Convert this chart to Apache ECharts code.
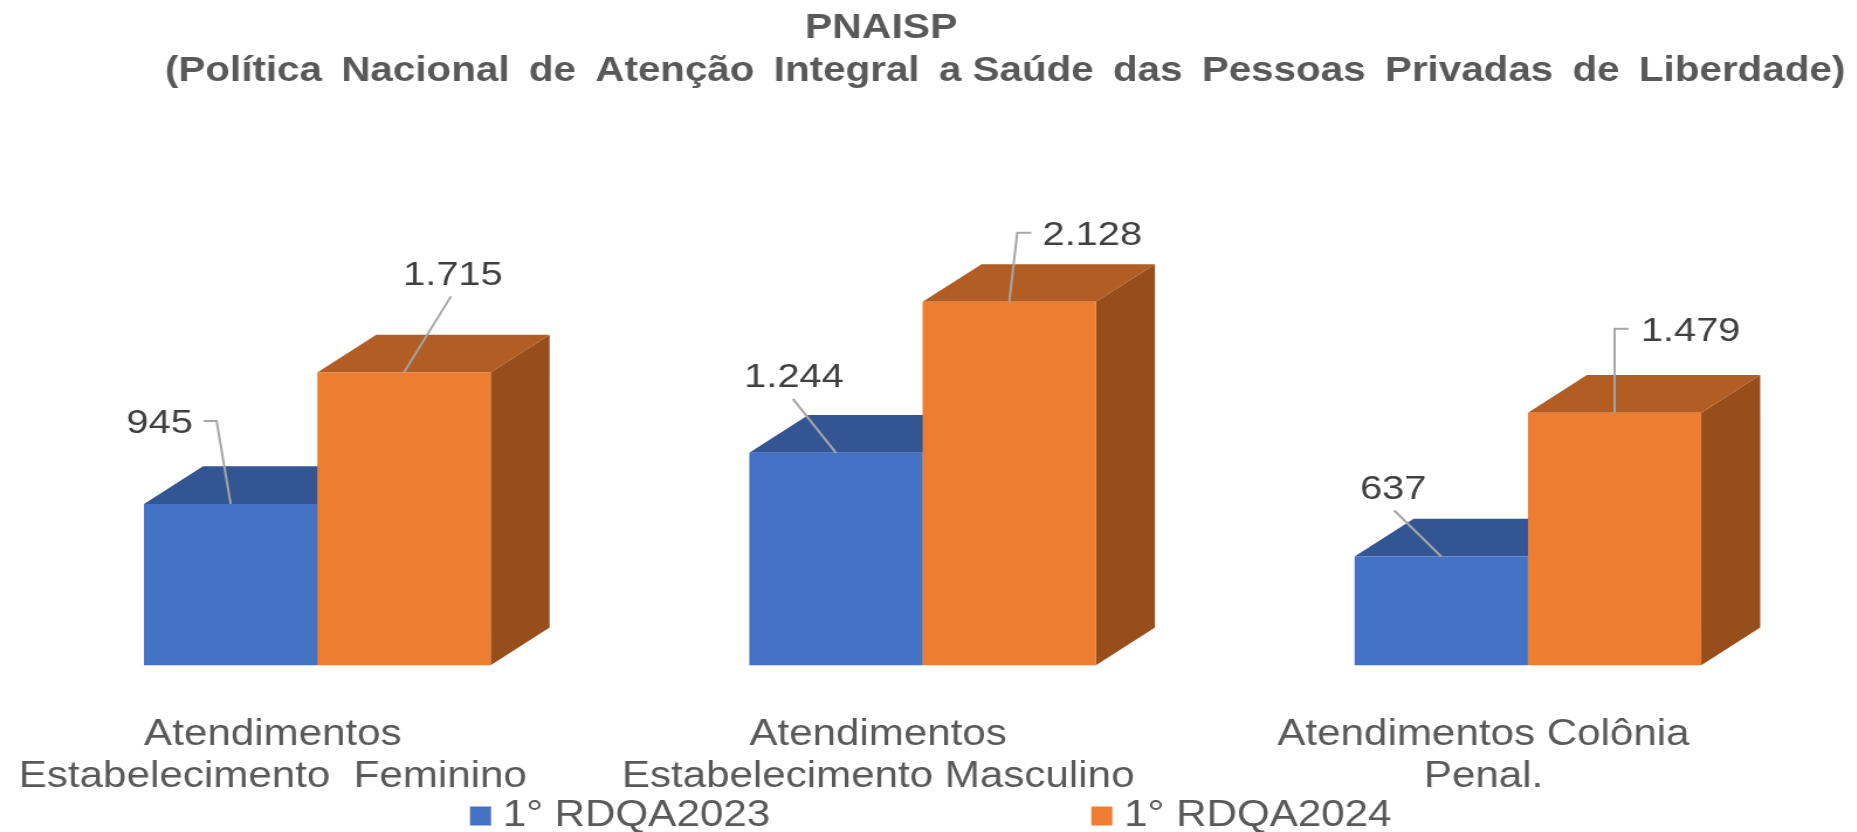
<!doctype html>
<html lang="pt-BR">
<head>
    <meta charset="UTF-8">
    <script src="https://cdn.jsdelivr.net/npm/echarts@6/dist/echarts.min.js"></script>
    <title>PNAISP</title>
    <style>
        html, body {margin: 0; padding: 0; background: #fff; overflow: hidden;}
        /* a referencia e uma imagem esticada na horizontal */
        #main {width: 1587.2px; height: 832px; transform-origin: 0 0; transform: scaleX(1.17);}
    </style>
</head>
<body>
<div id="main"></div>
<script>
    var categories = [
        'Atendimentos\nEstabelecimento  Feminino',
        'Atendimentos\nEstabelecimento Masculino',
        'Atendimentos Colônia\nPenal.'
    ];
    var seriesNames = ['1° RDQA2023', '1° RDQA2024'];
    var values2023 = [945, 1244, 637];
    var values2024 = [1715, 2128, 1479];

    var stretch = 1.17;
    var depthX = 59 / stretch;
    var depthY = 37.7;
    var barShare = 173.3 / 605.3;

    // posicao dos rotulos e linhas de chamada, relativa ao meio da aresta de cima
    var layout2023 = [
        {line: [[-14, -83], [-27, -83]], label: [-71, -80]},
        {line: [[-43, -54]], label: [-42, -75]},
        {line: [[-47, -46]], label: [-48, -67]}
    ];
    var layout2024 = [
        {line: [[47, -76]], label: [49, -97]},
        {line: [[8, -69], [22, -69]], label: [83, -66]},
        {line: [[0, -84], [14, -84]], label: [76, -81]}
    ];

    function formatBR(v) {
        return String(v).replace(/\B(?=(\d{3})+$)/g, '.');
    }

    function makeRender(side, colors, layout) {
        return function (params, api) {
            var idx = api.value(0);
            var top = api.coord([idx, api.value(1)]);
            var base = api.coord([idx, 0]);
            var w = api.size([1, 0])[0] * barShare;
            var x0 = side === 0 ? top[0] - w : top[0];
            var x1 = x0 + w;
            var y0 = top[1];
            var y1 = base[1];
            var cx = (x0 + x1) / 2;
            var points = [[cx, y0]];
            layout[idx].line.forEach(function (p) {
                points.push([cx + p[0] / stretch, y0 + p[1]]);
            });
            return {
                type: 'group',
                children: [
                    {
                        type: 'polygon',
                        shape: {points: [[x1, y0], [x1 + depthX, y0 - depthY], [x1 + depthX, y1 - depthY], [x1, y1]]},
                        style: {fill: colors.side}
                    },
                    {
                        type: 'polygon',
                        shape: {points: [[x0, y0], [x0 + depthX, y0 - depthY], [x1 + depthX, y0 - depthY], [x1, y0]]},
                        style: {fill: colors.top}
                    },
                    {
                        type: 'rect',
                        shape: {x: x0, y: y0, width: w, height: y1 - y0},
                        style: {fill: colors.front}
                    },
                    {
                        type: 'polyline',
                        shape: {points: points},
                        style: {fill: null, stroke: '#a6a6a6', lineWidth: 2}
                    },
                    {
                        type: 'text',
                        x: cx + layout[idx].label[0] / stretch,
                        y: y0 + layout[idx].label[1],
                        style: {
                            text: formatBR(api.value(1)),
                            align: 'center',
                            verticalAlign: 'middle',
                            fontFamily: 'Liberation Sans',
                            fontSize: 34,
                            fill: '#404040'
                        }
                    }
                ]
            };
        };
    }

    var myChart = echarts.init(document.getElementById('main'));

    var option = {
        animation: false,
        backgroundColor: '#fff',
        title: [
            {
                text: 'PNAISP',
                left: 683,
                top: 6,
                textStyle: {fontFamily: 'Liberation Sans', fontSize: 35, fontWeight: 'bold', color: '#595959'}
            },
            {
                // espacos finos (\u2009) para acertar o vao entre as palavras
                text: '(Política \u2009Nacional \u2009de \u2009Atenção \u2009Integral \u2009a Saúde \u2009das \u2009Pessoas \u2009Privadas \u2009de \u2009Liberdade)',
                left: 136,
                top: 49,
                textStyle: {fontFamily: 'Liberation Sans', fontSize: 34.5, fontWeight: 'bold', color: '#595959'}
            }
        ],
        legend: {
            data: seriesNames,
            left: 401.7,
            top: 798,
            icon: 'rect',
            itemWidth: 18,
            itemHeight: 19,
            itemGap: 274.5,
            padding: 0,
            textStyle: {fontFamily: 'Liberation Sans', fontSize: 36, color: '#595959', padding: [0, 0, 0, 5]}
        },
        grid: {left: 12.5, width: 1552.1, top: 238.3, height: 427},
        xAxis: {
            type: 'category',
            data: categories,
            axisLine: {show: false},
            axisTick: {show: false},
            axisLabel: {
                interval: 0,
                margin: 49,
                fontFamily: 'Liberation Sans',
                fontSize: 36,
                lineHeight: 42,
                color: '#595959',
                padding: [0, 76, 0, 0]
            }
        },
        yAxis: {type: 'value', min: 0, max: 2500, show: false},
        series: [
            {
                name: seriesNames[0],
                type: 'custom',
                itemStyle: {color: '#4472C4'},
                renderItem: makeRender(0, {front: '#4472C4', top: '#335593', side: '#2A4679'}, layout2023),
                data: values2023.map(function (v, i) { return [i, v]; })
            },
            {
                name: seriesNames[1],
                type: 'custom',
                itemStyle: {color: '#ED7D31'},
                renderItem: makeRender(1, {front: '#ED7D31', top: '#B25D23', side: '#974E1B'}, layout2024),
                data: values2024.map(function (v, i) { return [i, v]; })
            }
        ]
    };

    myChart.setOption(option);
</script>
</body>
</html>
